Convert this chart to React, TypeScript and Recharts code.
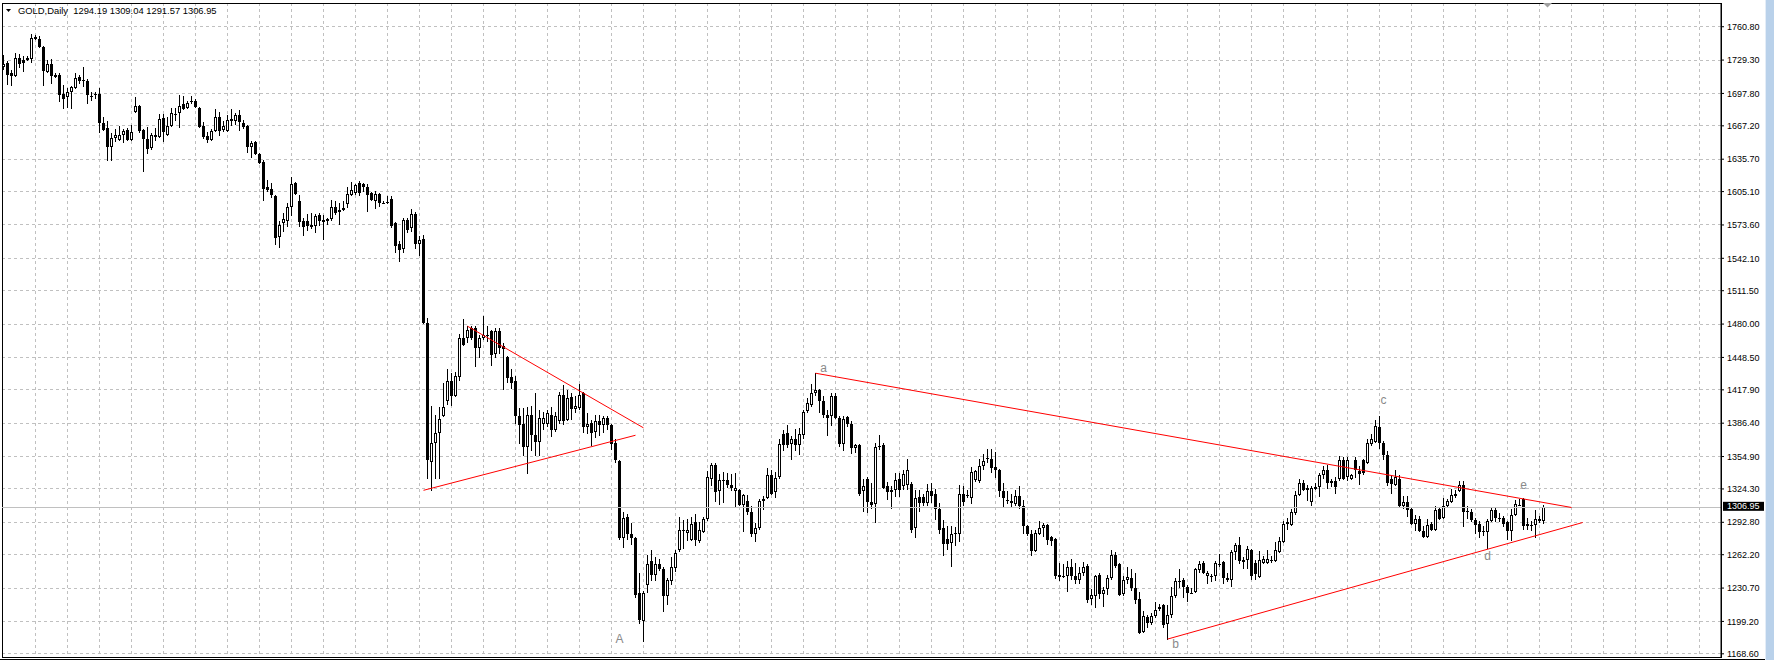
import {
  ComposedChart,
  Bar,
  XAxis,
  YAxis,
  CartesianGrid,
  ReferenceLine,
  ReferenceArea,
  ReferenceDot,
} from 'recharts';

// open, high, low, close
type Ohlc = [number, number, number, number];

const FONT = "Tahoma, 'Liberation Sans', Arial, sans-serif";

// daily bars, oldest first
const legTop: Ohlc[] = [
  [1723, 1734, 1720, 1726], [1727, 1728, 1706, 1715], [1717, 1720, 1705, 1714], [1714, 1736, 1713, 1731],
  [1731, 1735, 1722, 1726], [1729, 1733, 1718, 1727], [1729, 1733, 1728, 1731], [1730, 1754, 1727, 1750],
  [1751, 1753, 1748, 1749], [1749, 1752, 1741, 1742], [1742, 1743, 1705, 1719], [1718, 1729, 1717, 1726],
  [1726, 1730, 1707, 1714], [1715, 1717, 1712, 1713], [1715, 1717, 1690, 1696], [1697, 1706, 1683, 1693],
  [1694, 1703, 1684, 1699], [1699, 1705, 1683, 1704], [1703, 1717, 1702, 1712], [1713, 1715, 1707, 1710],
  [1711, 1723, 1704, 1710], [1710, 1711, 1688, 1696], [1696, 1699, 1691, 1695], [1698, 1699, 1693, 1697],
  [1697, 1703, 1660, 1670], [1670, 1676, 1662, 1663], [1665, 1672, 1634, 1647], [1647, 1660, 1634, 1656],
  [1656, 1664, 1652, 1659], [1654, 1667, 1653, 1659], [1659, 1664, 1651, 1662], [1663, 1665, 1653, 1654],
  [1654, 1668, 1653, 1661], [1680, 1694, 1679, 1686], [1686, 1687, 1660, 1662], [1663, 1664, 1624, 1655],
  [1655, 1666, 1641, 1645], [1646, 1660, 1644, 1659], [1659, 1665, 1653, 1657], [1657, 1678, 1656, 1674],
  [1675, 1678, 1652, 1661], [1659, 1676, 1658, 1667], [1667, 1684, 1666, 1679], [1679, 1684, 1672, 1678],
  [1679, 1696, 1665, 1686], [1688, 1695, 1682, 1683], [1684, 1691, 1683, 1689], [1690, 1695, 1688, 1691],
  [1691, 1693, 1684, 1685], [1684, 1685, 1665, 1666], [1667, 1671, 1655, 1657], [1658, 1661, 1651, 1654],
  [1654, 1664, 1653, 1662],
];

const legSlide: Ohlc[] = [
  [1662, 1683, 1661, 1676], [1676, 1680, 1658, 1662], [1663, 1672, 1661, 1667], [1662, 1677, 1661, 1673],
  [1674, 1683, 1667, 1672], [1672, 1679, 1668, 1677], [1677, 1682, 1662, 1671], [1670, 1673, 1664, 1666],
  [1667, 1668, 1642, 1647], [1647, 1653, 1637, 1651], [1652, 1653, 1640, 1641], [1641, 1642, 1631, 1632],
  [1633, 1635, 1596, 1608], [1609, 1616, 1605, 1607], [1608, 1613, 1599, 1602], [1601, 1602, 1555, 1561],
  [1562, 1577, 1552, 1574], [1575, 1585, 1567, 1579], [1577, 1594, 1572, 1591], [1591, 1619, 1582, 1612],
  [1613, 1614, 1602, 1603], [1596, 1602, 1572, 1576], [1577, 1580, 1563, 1572], [1577, 1584, 1568, 1573],
  [1574, 1585, 1570, 1572], [1573, 1584, 1566, 1582], [1583, 1585, 1573, 1577], [1578, 1583, 1559, 1576],
  [1577, 1580, 1574, 1579], [1579, 1597, 1577, 1591], [1591, 1596, 1583, 1585], [1588, 1594, 1574, 1586],
  [1588, 1596, 1587, 1590], [1593, 1609, 1590, 1603], [1602, 1614, 1601, 1607], [1604, 1612, 1602, 1611],
  [1613, 1615, 1601, 1604], [1612, 1613, 1605, 1609], [1609, 1612, 1586, 1602], [1604, 1605, 1596, 1597],
  [1596, 1606, 1589, 1603], [1603, 1604, 1591, 1594], [1595, 1596, 1593, 1594], [1596, 1601, 1593, 1595],
  [1598, 1601, 1571, 1573], [1575, 1576, 1547, 1554], [1556, 1558, 1539, 1550], [1551, 1580, 1547, 1578],
  [1578, 1580, 1566, 1569], [1571, 1589, 1567, 1584], [1584, 1586, 1551, 1556], [1556, 1563, 1544, 1559],
  [1560, 1564, 1480, 1481],
];

const legCrash: Ohlc[] = [
  [1481, 1486, 1334, 1352], [1350, 1403, 1322, 1368], [1368, 1394, 1334, 1377], [1377, 1402, 1334, 1390],
  [1393, 1424, 1392, 1402], [1407, 1438, 1404, 1426], [1426, 1434, 1403, 1412], [1412, 1435, 1411, 1431],
  [1430, 1471, 1426, 1467], [1467, 1485, 1459, 1460], [1467, 1478, 1462, 1474], [1476, 1478, 1465, 1467],
  [1476, 1478, 1439, 1457], [1457, 1470, 1448, 1467], [1467, 1488, 1465, 1470], [1470, 1478, 1463, 1469],
  [1473, 1474, 1440, 1451], [1452, 1476, 1448, 1473], [1473, 1476, 1452, 1457], [1459, 1462, 1418, 1456],
  [1449, 1450, 1424, 1429], [1430, 1438, 1419, 1424], [1426, 1431, 1386, 1393], [1393, 1401, 1367, 1385],
  [1386, 1401, 1355, 1364], [1364, 1402, 1338, 1394], [1394, 1403, 1360, 1375], [1375, 1415, 1355, 1369],
  [1369, 1399, 1355, 1391], [1386, 1397, 1380, 1391], [1386, 1399, 1383, 1396], [1394, 1402, 1373, 1380],
  [1380, 1397, 1378, 1393], [1388, 1416, 1386, 1413], [1413, 1422, 1385, 1388], [1389, 1418, 1388, 1410],
  [1411, 1415, 1389, 1400], [1400, 1412, 1396, 1403], [1401, 1423, 1399, 1413], [1415, 1416, 1377, 1383],
  [1383, 1396, 1376, 1386], [1387, 1389, 1365, 1377], [1378, 1394, 1372, 1388], [1388, 1394, 1374, 1385],
  [1385, 1393, 1377, 1391], [1391, 1393, 1380, 1385], [1385, 1386, 1361, 1367], [1368, 1371, 1349, 1352],
  [1351, 1352, 1276, 1278], [1278, 1303, 1269, 1297], [1298, 1301, 1276, 1282], [1282, 1292, 1271, 1278],
  [1278, 1279, 1221, 1224], [1226, 1245, 1197, 1201], [1200, 1228, 1180, 1226],
];

const legRebound: Ohlc[] = [
  [1234, 1262, 1226, 1253], [1256, 1267, 1237, 1243], [1243, 1260, 1237, 1253], [1253, 1258, 1247, 1249],
  [1249, 1251, 1208, 1223], [1223, 1240, 1215, 1238], [1237, 1260, 1234, 1251], [1250, 1267, 1246, 1264],
  [1267, 1298, 1265, 1286], [1285, 1295, 1268, 1286], [1283, 1296, 1275, 1286], [1276, 1298, 1275, 1291],
  [1293, 1301, 1270, 1276], [1275, 1293, 1273, 1286], [1284, 1298, 1283, 1296], [1296, 1341, 1294, 1336],
  [1334, 1349, 1327, 1347], [1347, 1349, 1312, 1321], [1322, 1338, 1309, 1333], [1333, 1340, 1311, 1332],
  [1333, 1339, 1325, 1328], [1328, 1338, 1322, 1325], [1322, 1339, 1306, 1325], [1323, 1324, 1308, 1309],
  [1309, 1320, 1284, 1319], [1313, 1319, 1300, 1303], [1303, 1308, 1279, 1282], [1282, 1292, 1274, 1287],
  [1287, 1315, 1286, 1313], [1315, 1318, 1304, 1313], [1316, 1344, 1315, 1337], [1337, 1342, 1319, 1320],
  [1321, 1340, 1316, 1335], [1336, 1371, 1334, 1367], [1376, 1380, 1360, 1366], [1377, 1385, 1363, 1366],
  [1367, 1374, 1352, 1371], [1371, 1381, 1360, 1366], [1366, 1382, 1356, 1376], [1375, 1399, 1371, 1397],
  [1398, 1410, 1396, 1405], [1404, 1423, 1402, 1415], [1415, 1434, 1412, 1418], [1418, 1419, 1396, 1407],
  [1407, 1412, 1391, 1394], [1394, 1399, 1374, 1391], [1393, 1415, 1384, 1412], [1412, 1415, 1390, 1391],
  [1391, 1393, 1364, 1367], [1367, 1393, 1360, 1390], [1392, 1393, 1383, 1386], [1386, 1388, 1357, 1363],
  [1363, 1367, 1358, 1366], [1366, 1367, 1318, 1320],
];

const legAutumn: Ohlc[] = [
  [1322, 1334, 1303, 1327], [1334, 1336, 1302, 1312], [1312, 1330, 1305, 1309], [1310, 1368, 1292, 1364],
  [1364, 1375, 1361, 1365], [1366, 1368, 1324, 1325], [1327, 1331, 1314, 1321], [1321, 1327, 1305, 1323],
  [1323, 1339, 1317, 1333], [1334, 1339, 1317, 1323], [1327, 1342, 1323, 1338], [1328, 1353, 1323, 1342],
  [1329, 1331, 1283, 1286], [1287, 1323, 1278, 1316], [1317, 1323, 1303, 1311], [1317, 1320, 1308, 1311],
  [1311, 1329, 1308, 1322], [1322, 1330, 1311, 1318], [1320, 1324, 1295, 1305], [1305, 1311, 1282, 1286],
  [1287, 1295, 1261, 1272], [1277, 1289, 1267, 1272], [1273, 1289, 1251, 1282], [1282, 1288, 1270, 1283],
  [1282, 1328, 1274, 1320], [1320, 1327, 1308, 1312], [1319, 1323, 1316, 1318], [1316, 1345, 1310, 1340],
  [1333, 1342, 1331, 1341], [1332, 1353, 1330, 1346], [1346, 1357, 1342, 1351], [1354, 1362, 1349, 1353],
  [1353, 1362, 1339, 1344], [1345, 1359, 1335, 1342], [1342, 1343, 1317, 1322], [1322, 1330, 1306, 1316],
  [1314, 1322, 1310, 1313], [1313, 1320, 1306, 1311], [1310, 1323, 1308, 1318], [1318, 1327, 1305, 1308],
  [1308, 1314, 1282, 1289], [1289, 1290, 1280, 1282], [1282, 1286, 1261, 1266], [1266, 1286, 1265, 1283],
  [1282, 1294, 1281, 1287], [1287, 1292, 1279, 1290], [1290, 1291, 1271, 1276], [1279, 1280, 1270, 1275],
  [1277, 1278, 1239, 1242], [1243, 1254, 1237, 1241], [1242, 1253, 1240, 1243], [1242, 1256, 1227, 1251],
  [1251, 1258, 1238, 1242], [1242, 1254, 1235, 1238], [1238, 1251, 1235, 1245], [1245, 1255, 1242, 1251],
];

const legBottom: Ohlc[] = [
  [1252, 1253, 1217, 1219], [1220, 1230, 1215, 1224], [1223, 1243, 1212, 1242], [1243, 1245, 1220, 1225],
  [1225, 1232, 1213, 1229], [1230, 1243, 1224, 1240], [1240, 1267, 1238, 1262], [1262, 1265, 1250, 1252],
  [1253, 1254, 1223, 1224], [1225, 1242, 1223, 1238], [1238, 1251, 1235, 1241], [1240, 1249, 1228, 1231],
  [1231, 1245, 1216, 1219], [1220, 1227, 1187, 1188], [1189, 1209, 1188, 1204], [1203, 1205, 1193, 1198],
  [1198, 1207, 1196, 1204], [1204, 1218, 1202, 1210], [1211, 1216, 1209, 1213], [1215, 1216, 1193, 1196],
  [1197, 1215, 1182, 1205], [1205, 1232, 1202, 1223], [1223, 1240, 1221, 1237], [1237, 1249, 1231, 1238],
  [1238, 1240, 1221, 1232], [1232, 1234, 1218, 1226], [1226, 1231, 1225, 1227], [1227, 1250, 1226, 1249],
  [1248, 1256, 1245, 1253], [1254, 1256, 1244, 1245], [1242, 1247, 1235, 1245], [1242, 1244, 1236, 1243],
  [1242, 1256, 1237, 1254], [1253, 1263, 1251, 1254], [1255, 1256, 1235, 1240], [1240, 1245, 1236, 1238],
  [1238, 1267, 1232, 1265], [1265, 1273, 1257, 1271], [1271, 1279, 1253, 1256], [1257, 1260, 1249, 1255],
  [1257, 1270, 1249, 1268], [1267, 1268, 1238, 1242], [1254, 1257, 1238, 1244], [1241, 1266, 1240, 1257],
  [1254, 1261, 1253, 1258], [1254, 1267, 1253, 1258], [1258, 1261, 1254, 1257], [1256, 1274, 1255, 1267],
  [1265, 1279, 1264, 1275], [1274, 1294, 1273, 1291], [1293, 1297, 1286, 1291], [1290, 1305, 1289, 1303],
];

const legTriangle: Ohlc[] = [
  [1302, 1322, 1300, 1319], [1319, 1334, 1318, 1330], [1330, 1333, 1322, 1323], [1323, 1328, 1313, 1325],
  [1312, 1327, 1308, 1325], [1324, 1330, 1323, 1326], [1326, 1339, 1317, 1337], [1337, 1346, 1334, 1342],
  [1342, 1347, 1324, 1330], [1330, 1334, 1326, 1332], [1332, 1336, 1320, 1326], [1334, 1355, 1332, 1352],
  [1352, 1354, 1333, 1334], [1336, 1354, 1332, 1352], [1334, 1338, 1333, 1337], [1352, 1354, 1335, 1342],
  [1341, 1346, 1328, 1338], [1352, 1353, 1337, 1339], [1349, 1371, 1348, 1368], [1367, 1376, 1365, 1371],
  [1369, 1389, 1368, 1384], [1383, 1393, 1362, 1368], [1368, 1370, 1352, 1356], [1356, 1360, 1327, 1330],
  [1334, 1337, 1320, 1329], [1328, 1342, 1327, 1336], [1334, 1337, 1307, 1308], [1308, 1318, 1305, 1312],
  [1312, 1318, 1298, 1304], [1305, 1307, 1290, 1291], [1291, 1300, 1285, 1296], [1296, 1299, 1284, 1285],
  [1285, 1289, 1278, 1279], [1279, 1296, 1278, 1290], [1291, 1293, 1285, 1286], [1286, 1308, 1285, 1304],
  [1305, 1307, 1295, 1296], [1297, 1316, 1296, 1308], [1308, 1315, 1307, 1313], [1312, 1324, 1311, 1319],
  [1318, 1323, 1316, 1320], [1322, 1332, 1321, 1328], [1328, 1332, 1288, 1303], [1304, 1308, 1296, 1303],
  [1303, 1305, 1293, 1295], [1295, 1297, 1282, 1290], [1291, 1294, 1278, 1284], [1285, 1289, 1280, 1284],
  [1284, 1296, 1268, 1294], [1294, 1307, 1293, 1304], [1304, 1307, 1293, 1297], [1296, 1302, 1293, 1297],
  [1297, 1299, 1288, 1291], [1293, 1294, 1276, 1285], [1285, 1305, 1275, 1300], [1300, 1314, 1299, 1310],
  [1310, 1315, 1308, 1309], [1315, 1316, 1286, 1289], [1291, 1297, 1286, 1289], [1290, 1294, 1285, 1290],
  [1290, 1304, 1278, 1296], [1296, 1299, 1292, 1294], [1294.19, 1309.04, 1291.57, 1306.95],
];

const SYMBOL = 'GOLD,Daily';
const lastBar = legTriangle[legTriangle.length - 1];

// right price scale labels
const priceTicks = [
  1760.8, 1729.3, 1697.8, 1667.2, 1635.7, 1605.1, 1573.6, 1542.1, 1511.5, 1480.0,
  1448.5, 1417.9, 1386.4, 1354.9, 1324.3, 1292.8, 1262.2, 1230.7, 1199.2, 1168.6,
];

// trend lines: [bar, price] -> [bar, price]
const trendLines: { from: [number, number]; to: [number, number] }[] = [
  { from: [116, 1478], to: [160, 1382] },
  { from: [105, 1323], to: [158, 1375] },
  { from: [203, 1433.6], to: [392, 1306.8] },
  { from: [291, 1182.5], to: [394.8, 1292.6] },
];

// wave letters anchored at [bar, price]
const waveLabels: { bar: number; price: number; text: string }[] = [
  { bar: 154, price: 1183, text: 'A' },
  { bar: 205, price: 1439, text: 'a' },
  { bar: 293, price: 1178, text: 'b' },
  { bar: 345, price: 1409, text: 'c' },
  { bar: 371, price: 1261, text: 'd' },
  { bar: 380, price: 1328, text: 'e' },
];

const ohlc: Ohlc[] = [...legTop, ...legSlide, ...legCrash, ...legRebound, ...legAutumn, ...legBottom, ...legTriangle];
const candles = ohlc.map(([open, high, low, close], bar) => ({ bar, open, high, low, close }));

const X_MIN = -0.375;
const X_MAX = 429.375;
const Y_MIN = 1165.6;
const Y_MAX = 1783.2;
const gridBars = Array.from({ length: 53 }, (_, k) => 8 + k * 8);

function Candle(props: any) {
  const { x, y, width, height, payload } = props;
  if (!payload || !(height > 0)) return null;
  const { open, high, low, close } = payload;
  const cx = Math.floor(x + width / 2) + 0.5;
  const k = height / (high - low);
  const py = (v: number) => y + (high - v) * k;
  const top = py(Math.max(open, close));
  const bot = py(Math.min(open, close));
  const bodyH = bot - top;
  let body;
  if (bodyH < 1.5) {
    const my = Math.round((top + bot) / 2) + 0.5;
    body = <line x1={cx - 1.5} x2={cx + 1.5} y1={my} y2={my} stroke="#000" />;
  } else if (close >= open) {
    body = <rect x={cx - 1} y={top + 0.5} width={2} height={bodyH - 1} fill="#fff" stroke="#000" />;
  } else {
    body = <rect x={cx - 1.5} y={top} width={3} height={bodyH} fill="#000" />;
  }
  return (
    <g shapeRendering="crispEdges">
      <line x1={cx} x2={cx} y1={y} y2={y + height} stroke="#000" />
      {body}
    </g>
  );
}

function PriceTag(props: any) {
  const vb = props.viewBox;
  if (!vb) return null;
  const right = vb.x + vb.width;
  return (
    <g>
      <rect x={right + 2} y={vb.y - 5.5} width={41} height={9} fill="#000" />
      <text x={right + 6} y={vb.y - 1} fill="#fff" fontSize={9} fontFamily={FONT} dominantBaseline="central">
        {lastBar[3].toFixed(2)}
      </text>
    </g>
  );
}

function ShiftMark(props: any) {
  const { cx, cy } = props;
  return <polygon points={`${cx - 4.5},${cy} ${cx + 4.5},${cy} ${cx},${cy + 4.5}`} fill="#a0a0a0" />;
}

export default function App() {
  return (
    <div
      style={{
        position: 'absolute',
        left: 0,
        top: 0,
        width: 1774,
        height: 660,
        background: '#fff',
        overflow: 'hidden',
        fontFamily: FONT,
      }}
    >
      <ComposedChart width={1774} height={660} data={candles} margin={{ top: 3, right: 0, bottom: 3, left: 2 }}>
        <CartesianGrid stroke="#c0c0c0" strokeDasharray="3 3" shapeRendering="crispEdges" />
        <XAxis
          type="number"
          dataKey="bar"
          domain={[X_MIN, X_MAX]}
          allowDataOverflow
          ticks={gridBars}
          interval={0}
          hide
        />
        <YAxis
          orientation="right"
          width={53}
          domain={[Y_MIN, Y_MAX]}
          allowDataOverflow
          ticks={priceTicks}
          interval={0}
          tickFormatter={(v: number) => v.toFixed(2)}
          tick={{ fontSize: 9, fill: '#000', fontFamily: FONT }}
          tickSize={3}
          tickMargin={3}
          axisLine={{ stroke: '#000' }}
          tickLine={{ stroke: '#000' }}
        />
        <ReferenceLine y={lastBar[3]} stroke="#c0c0c0" shapeRendering="crispEdges" label={<PriceTag />} />
        <Bar
          dataKey={(d: any) => [d.low, d.high]}
          barSize={3}
          shape={Candle}
          isAnimationActive={false}
        />
        {trendLines.map((t, i) => (
          <ReferenceLine
            key={i}
            segment={[
              { x: t.from[0], y: t.from[1] },
              { x: t.to[0], y: t.to[1] },
            ]}
            stroke="#ff0000"
            strokeWidth={1}
          />
        ))}
        {waveLabels.map((w) => (
          <ReferenceDot
            key={w.text}
            x={w.bar}
            y={w.price}
            r={0}
            fill="none"
            stroke="none"
            label={{ value: w.text, position: 'center', fill: '#8a8a8a', fontSize: 12, fontFamily: FONT }}
          />
        ))}
        <ReferenceDot x={candles.length} y={Y_MAX} r={4} ifOverflow="visible" shape={ShiftMark} />
        <ReferenceArea
          x1={X_MIN}
          x2={X_MAX}
          y1={Y_MIN}
          y2={Y_MAX}
          fill="none"
          fillOpacity={0}
          stroke="#000"
          strokeOpacity={1}
          shapeRendering="crispEdges"
        />
      </ComposedChart>

      <div
        style={{
          position: 'absolute',
          left: 6,
          top: 5,
          height: 12,
          lineHeight: '12px',
          fontSize: 9.4,
          color: '#000',
          whiteSpace: 'pre',
          display: 'flex',
          alignItems: 'center',
        }}
      >
        <svg width={12} height={12} style={{ display: 'block' }}>
          <polygon points="0,4 5,4 2.5,7" fill="#000" />
        </svg>
        <span>{`${SYMBOL}  ${lastBar.map((v) => v.toFixed(2)).join(' ')}`}</span>
      </div>

      <div style={{ position: 'absolute', left: 0, top: 659, width: 1765, height: 1, background: '#000' }} />
      <div
        style={{
          position: 'absolute',
          left: 1765,
          top: 0,
          width: 9,
          height: 660,
          background: '#b9d1ea',
          borderLeft: '1px solid #e4edf7',
          boxSizing: 'border-box',
        }}
      />
    </div>
  );
}
